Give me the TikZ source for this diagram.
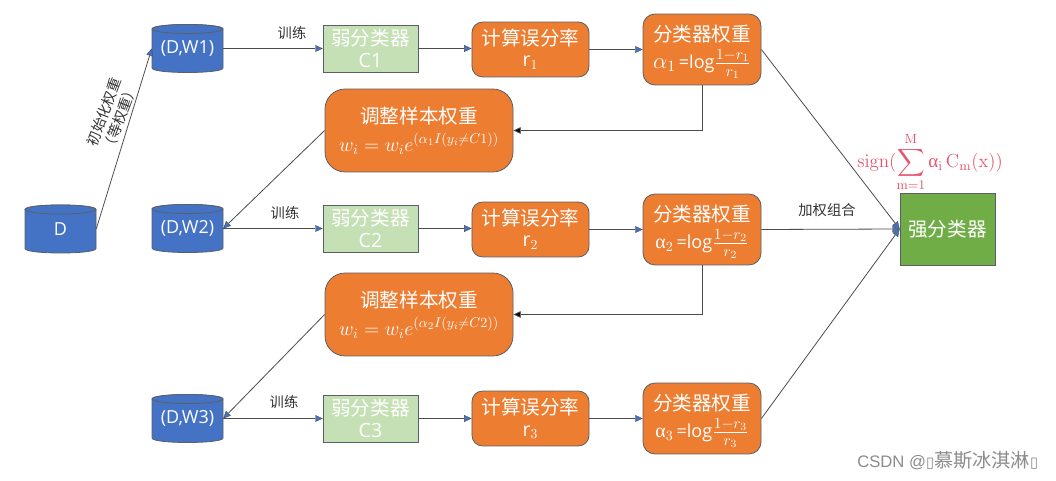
\RequirePackage{fix-cm}
\documentclass[tikz,border=0pt]{standalone}
\usepackage{amsmath}
\usepackage[no-math]{fontspec}
\setmainfont{Open Sans}
\newfontfamily\cjk{Noto Sans CJK SC}
\newfontfamily\lat{Open Sans}
\newfontfamily\serifgr{Liberation Serif}
\newfontfamily\wmfont{Liberation Sans}
\newfontfamily\djv{DejaVu Sans}
\usetikzlibrary{arrows.meta}
\definecolor{cblue}{HTML}{4472C4}
\definecolor{corange}{HTML}{ED7D31}
\definecolor{clight}{HTML}{C5E0B4}
\definecolor{cgreen}{HTML}{70AD47}
\definecolor{cedge}{HTML}{5A6068}
\definecolor{cpink}{HTML}{E8556E}
\newcommand{\wformula}[2]{{\lat\fontsize{13.5}{15}\selectfont #1\,=log}{\fontsize{16.5}{18}\selectfont$\frac{1-r_{#2}}{r_{#2}}$}}
\newcommand{\cylbody}[2]{%
  \draw[cylpath] (#1-35.5,#2-19.5) -- (#1-35.5,#2+19.5)
    .. controls (#1-35.5,#2+25.5) and (#1+35.5,#2+25.5) .. (#1+35.5,#2+19.5)
    -- (#1+35.5,#2-19.5)
    .. controls (#1+35.5,#2-25.5) and (#1-35.5,#2-25.5) .. cycle;
  \draw[cylpath] (#1,#2-19.5) ellipse [x radius=26.6pt,y radius=3.4pt];}
\tikzset{
  x=0.75pt,y=-0.75pt,
  cylpath/.style={draw=cedge,fill=cblue,line width=0.6pt},
  dbase/.style={rectangle,text=white,minimum width=53.2pt,minimum height=36pt,inner sep=0pt,
    font=\fontsize{13.5}{16}\selectfont},
  weak/.style={rectangle,draw=cedge,fill=clight,text=white,minimum width=71.2pt,minimum height=35.2pt,inner sep=0pt,
    align=center,font=\fontsize{14.7}{17}\selectfont\cjk,line width=0.6pt},
  errbox/.style={rectangle,rounded corners=8pt,draw=cedge,fill=corange,text=white,minimum width=87.8pt,minimum height=41.2pt,inner sep=0pt,
    align=center,font=\fontsize{14.7}{16}\selectfont\cjk,line width=0.6pt},
  wtbox/.style={rectangle,rounded corners=9pt,draw=cedge,fill=corange,text=white,minimum width=88.5pt,minimum height=53.2pt,inner sep=0pt,
    align=center,font=\fontsize{14.7}{17}\selectfont\cjk,line width=0.6pt},
  adjbox/.style={rectangle,rounded corners=15pt,draw=cedge,fill=corange,text=white,minimum width=141pt,minimum height=62.2pt,inner sep=0pt,
    align=center,font=\fontsize{14.7}{18}\selectfont\cjk,line width=0.6pt},
  strong/.style={rectangle,draw=cedge,fill=cgreen,text=white,minimum width=71.2pt,minimum height=54pt,inner sep=0pt,
    font=\fontsize{14.7}{17}\selectfont\cjk,line width=0.6pt},
  lab/.style={inner sep=0pt,text=black!80,font=\fontsize{10.7}{12}\selectfont\cjk},
  conn/.style={draw=black!70,line width=0.6pt,-{Triangle[length=5.5pt,width=5pt,fill=cblue,line width=0.3pt]}},
  back/.style={draw=black!70,line width=0.6pt,-{Triangle[length=5.5pt,width=5pt,fill=black]}},
}
\begin{document}
\begin{tikzpicture}
\useasboundingbox (0,0) rectangle (1056,481);
\fill[white] (0,0) rectangle (1056,481);
% databases
\cylbody{60.5}{229}
\cylbody{187.5}{48.5}
\cylbody{187.5}{228.5}
\cylbody{187.5}{418.5}
\node[dbase] (d) at (60.5,229) {D};
\node[dbase] (w1) at (187.5,48.5) {(D,W1)};
\node[dbase] (w2) at (187.5,228.5) {(D,W2)};
\node[dbase] (w3) at (187.5,418.5) {(D,W3)};
% weak classifiers
\node[weak] (c1) at (370.5,48.5) {弱分类器\\\lat C1};
\node[weak] (c2) at (370.5,228.5) {弱分类器\\\lat C2};
\node[weak] (c3) at (370.5,418.5) {弱分类器\\\lat C3};
% error rates
\node[errbox] (e1) at (530.5,49.5) {计算误分率\\\lat r$_{1}$};
\node[errbox] (e2) at (530.5,229.5) {计算误分率\\\lat r$_{2}$};
\node[errbox] (e3) at (530.5,418.5) {计算误分率\\\lat r$_{3}$};
% classifier weights
\node[wtbox] (a1) at (702,49.5) {\rule{0pt}{16pt}分类器权重\\[3pt]\wformula{{\fontsize{17}{18}\selectfont$\alpha_1$}}{1}};
\node[wtbox] (a2) at (702,229.5) {\rule{0pt}{16pt}分类器权重\\[3pt]\wformula{{\fontsize{15}{18}\selectfont\serifgr α$_2$}}{2}};
\node[wtbox] (a3) at (702,418.5) {\rule{0pt}{16pt}分类器权重\\[3pt]\wformula{{\fontsize{15}{18}\selectfont\serifgr α$_3$}}{3}};
% sample weight adjustment
\node[adjbox] (u1) at (419,130.5) {调整样本权重\\[3pt]{\fontsize{15}{18}\selectfont$\displaystyle w_i=w_ie^{(\alpha_1 I(y_i\neq C1))}$}};
\node[adjbox] (u2) at (419,314.5) {调整样本权重\\[3pt]{\fontsize{15}{18}\selectfont$\displaystyle w_i=w_ie^{(\alpha_2 I(y_i\neq C2))}$}};
% strong classifier
\node[strong] (s) at (947.5,229) {强分类器};
% connectors
\draw[conn] (d.east) -- (w1.west);
\draw[conn] (w1.east) -- (c1.west);
\draw[conn] (w2.east) -- (c2.west);
\draw[conn] (w3.east) -- (c3.west);
\foreach \i in {1,2,3}{
  \draw[conn] (c\i.east) -- (c\i.east -| e\i.west);
  \draw[conn] (e\i.east) -- (e\i.east -| a\i.west);
}
\draw[back] (a1.south) |- (u1.east);
\draw[back] (a2.south) |- (u2.east);
\draw[conn] (u1.west) -- (w2.east);
\draw[conn] (u2.west) -- (w3.east);
\draw[conn] (a1.east) -- (s.west);
\draw[conn] (a2.east) -- (s.west);
\draw[conn] (a3.east) -- (s.west);
% labels
\node[lab] (t1) at (292,33) {训练};
\node[lab] (t2) at (285,213) {训练};
\node[lab] (t3) at (284,402) {训练};
\node[lab] (t4) at (827,210) {加权组合};
\node[lab,rotate=69,align=center,font=\fontsize{10.7}{13}\selectfont\cjk] (t5) at (112,115) {初始化权重\\（等权重）};
\node[inner sep=0pt,text=cpink,font=\fontsize{14.2}{16}\selectfont] (f) at (930,162)
  {$\mathrm{sign}(\displaystyle\sum_{\mathrm{m}=1}^{\mathrm{M}}\text{\serifgr α}_{\mathrm{i}}\,\mathrm{C}_{\mathrm{m}}(\mathrm{x}))$};
\node[inner sep=0pt,anchor=west,text=black!45,font=\fontsize{12.5}{14}\selectfont\wmfont] (wmk) at (857,461)
  {CSDN @{\djv\fontsize{11}{12}\selectfont ▯}{\cjk\fontsize{14.4}{14}\selectfont 慕斯冰淇淋}{\djv\fontsize{11}{12}\selectfont ▯}};
\end{tikzpicture}
\end{document}
